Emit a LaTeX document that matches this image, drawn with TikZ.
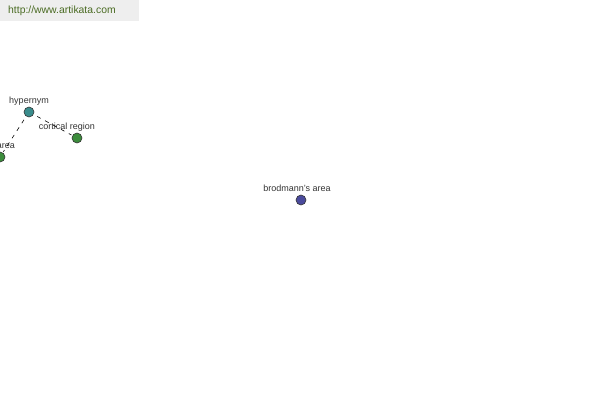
\documentclass[tikz,border=0pt]{standalone}
\usepackage{fontspec}
\setmainfont{Liberation Sans}
\definecolor{banner}{HTML}{EEEEEE}
\definecolor{urlgreen}{HTML}{4A6B22}
\definecolor{labelgray}{HTML}{333333}
\definecolor{tealnode}{HTML}{3A8C8C}
\definecolor{greennode}{HTML}{3C8C3C}
\definecolor{bluenode}{HTML}{4A4A9C}

\begin{document}
\begin{tikzpicture}[x=1pt,y=-1pt,
	dot/.style={circle,draw=black!80,line width=0.6pt,minimum size=10pt,inner sep=0pt},
	lbl/.style={text=labelgray,font=\fontsize{9}{10}\selectfont,inner sep=0pt},
	link/.style={line width=0.6pt,dash pattern=on 4pt off 5pt,shorten <=4pt,shorten >=1pt}]

	\useasboundingbox (0,0) rectangle (600,400);
	\clip (0,0) rectangle (600,400);

	\fill[banner] (0,0) rectangle (139,21);
	\node[text=urlgreen,font=\fontsize{10.4}{12}\selectfont,anchor=west,inner sep=0pt] (url) at (8,11) {http://www.artikata.com};

	\node[dot,fill=tealnode] (hypernym) at (29,112) {};
	\node[dot,fill=greennode] (cortical) at (77,138) {};
	\node[dot,fill=greennode] (area) at (0,157) {};
	\node[dot,fill=bluenode] (brodmann) at (301,200) {};

	\node[lbl] (hypernym_l) at (29,101) {hypernym};
	\node[lbl] (cortical_l) at (67,127) {cortical region};
	\node[lbl,anchor=east] (area_l) at (15,146) {area};
	\node[lbl] (brodmann_l) at (297,188) {brodmann's area};

	\draw[link] (hypernym) -- (cortical);
	\draw[link] (hypernym) -- (area);

\end{tikzpicture}
\end{document}
